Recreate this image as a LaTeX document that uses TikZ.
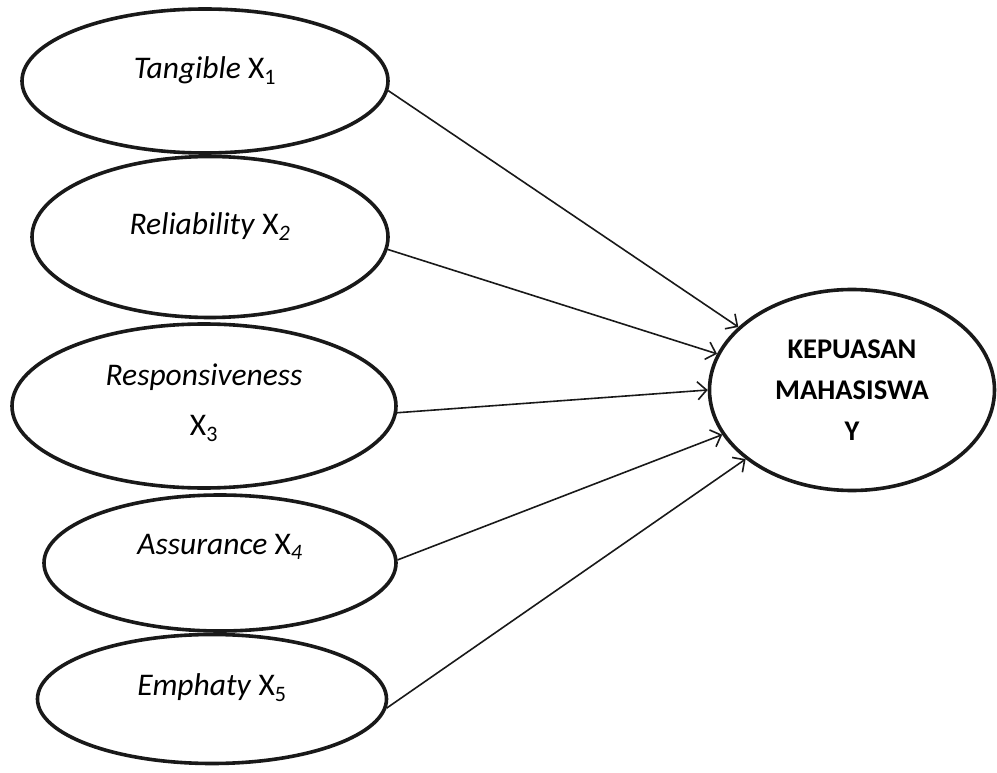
\documentclass[tikz,border=0pt]{standalone}
\usepackage{fontspec}
\setmainfont{Carlito}
\usepackage{tikz}
\usetikzlibrary{arrows.meta,positioning,shapes.geometric}

\begin{document}
\begin{tikzpicture}[x=1pt,y=-1pt,
  var/.style={ellipse,draw=black!90,line width=3.6pt,inner sep=0pt,align=center,
    font=\fontsize{31.5}{50}\selectfont,text depth=#1},
  var/.default=26pt,
  dep/.style={ellipse,draw=black!90,line width=3.6pt,inner sep=0pt,align=center,
    font=\fontsize{28.5}{41}\selectfont\bfseries},
  path/.style={line width=1.6pt,draw=black!90,-{Straight Barb[length=9pt,width=18pt,line width=1.6pt]}}
]
\useasboundingbox (0,0) rectangle (997,773);
\node[var,minimum width=366pt,minimum height=144pt] (tan) at (205,81) {\textit{Tangible} X\textsubscript{1}};
\node[var,minimum width=356pt,minimum height=161pt] (rel) at (210,237) {\textit{Reliability} X\textsubscript{\textit{2}}};
\node[var=12pt,minimum width=384pt,minimum height=164pt] (res) at (204,406) {\textit{Responsiveness}\\X\textsubscript{3}};
\node[var=38pt,minimum width=352pt,minimum height=136pt] (asu) at (220,563) {\textit{Assurance} X\textsubscript{\textit{4}}};
\node[var=28pt,minimum width=349pt,minimum height=129pt] (emp) at (212,699) {\textit{Emphaty} X\textsubscript{5}};
\node[dep,minimum width=285pt,minimum height=201pt] (kep) at (852,390) {KEPUASAN\\MAHASISWA\\Y};
% jalur ke Y
\draw[path] (tan.-3) -- (kep.151);
\draw[path] (rel.-4) -- (kep.165);
\draw[path] (res.-2) -- (kep.180);
\draw[path] (asu.1) -- (kep.199);
\draw[path] (emp.-3) -- (kep.213);
\end{tikzpicture}
\end{document}
